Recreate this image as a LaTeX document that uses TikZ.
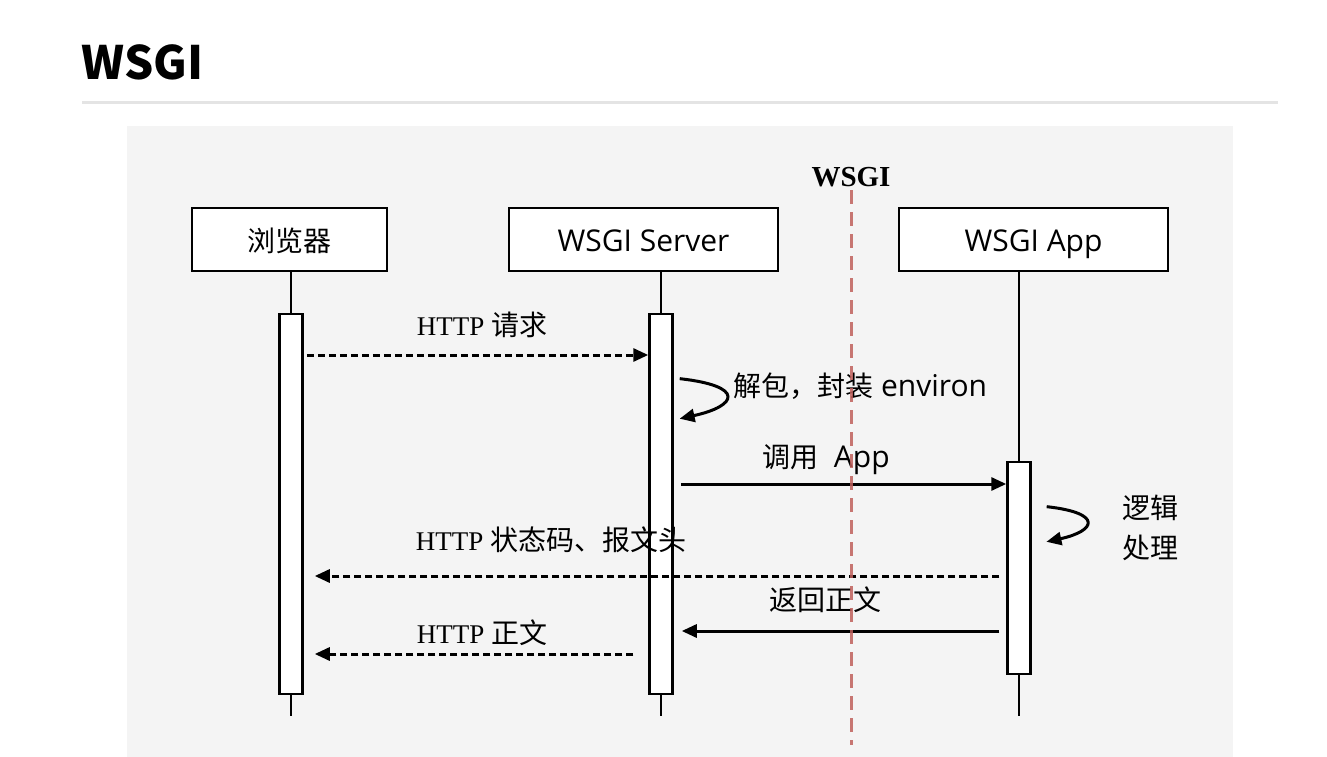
\documentclass[tikz,border=0pt]{standalone}
\usepackage{fontspec}
\setmainfont{Liberation Serif}
\setsansfont{Open Sans}
\newfontfamily\cjk{Noto Sans CJK SC}
\usetikzlibrary{arrows.meta}
\definecolor{panel}{HTML}{F4F4F4}
\definecolor{rulegray}{HTML}{E4E4E4}
\definecolor{split}{HTML}{C0605C}
\newcommand{\zh}[1]{{\cjk\fontsize{28}{34}\selectfont #1}}

\begin{document}
\begin{tikzpicture}[x=1pt,y=-1pt]
\useasboundingbox (0,0) rectangle (1327,757);
\tikzstyle{actor} = [draw, line width=2.5pt, fill=white, minimum height=63pt, inner sep=0pt, text height=23pt, text depth=0pt, font=\sffamily\fontsize{30}{36}\selectfont];
\tikzstyle{bar} = [draw, line width=2.5pt, fill=white, minimum width=23pt, inner sep=0pt];
\tikzstyle{life} = [line width=1.8pt];
\tikzstyle{call} = [line width=3pt, -{Triangle[length=15pt,width=13pt]}];
\tikzstyle{ret} = [call, dash pattern=on 7pt off 4pt];
\tikzstyle{lbl} = [inner sep=0pt, font=\fontsize{27}{32}\selectfont];
\tikzstyle{slbl} = [inner sep=0pt, font=\sffamily\fontsize{30}{40}\selectfont];
\fill[panel] (127,126) rectangle (1233,757);
\fill[rulegray] (82,101) rectangle (1278,104);
\node[anchor=west, inner sep=0pt, font=\cjk\bfseries\fontsize{46}{46}\selectfont] (title) at (81,62) {WSGI};

\node[actor, minimum width=195pt] (br) at (289.5,239.5) {\zh{浏览器}};
\node[actor, minimum width=269pt] (srv) at (643.5,239.5) {WSGI Server};
\node[actor, minimum width=269pt] (app) at (1033.5,239.5) {WSGI App};

\node[bar, minimum height=380pt] (brbar) at (291,504) {};
\node[bar, minimum height=380pt] (srvbar) at (661,504) {};
\node[bar, minimum height=212pt] (appbar) at (1019,568) {};
\coordinate (brend) at (291,716);
\coordinate (srvend) at (661,716);
\coordinate (append) at (1019,716);
\draw[life] (brbar.north |- br.south) -- (brbar.north);
\draw[life] (brbar.south) -- (brend);
\draw[life] (srvbar.north |- srv.south) -- (srvbar.north);
\draw[life] (srvbar.south) -- (srvend);
\draw[life] (appbar.north |- app.south) -- (appbar.north);
\draw[life] (appbar.south) -- (append);

% message rows
\coordinate (r1) at (0,355);
\coordinate (s1a) at (0,378);
\coordinate (s1b) at (0,420);
\coordinate (r2) at (0,484);
\coordinate (s2a) at (0,505);
\coordinate (s2b) at (0,545);
\coordinate (r3) at (0,576);
\coordinate (r4) at (0,631);
\coordinate (r5) at (0,654);

\draw[ret, shorten <=3pt] (brbar.east |- r1) -- (srvbar.west |- r1);
\draw[call, shorten <=6pt, shorten >=6pt] (srvbar.east |- s1a) .. controls +(72,8) and +(64,-14) .. (srvbar.east |- s1b);
\draw[call, shorten <=7pt] (srvbar.east |- r2) -- (appbar.west |- r2);
\draw[call, shorten <=15pt, shorten >=15pt] (appbar.east |- s2a) .. controls +(72,8) and +(64,-14) .. (appbar.east |- s2b);
\draw[ret, shorten <=7pt, shorten >=11pt] (appbar.west |- r3) -- (brbar.east |- r3);
\draw[call, shorten <=7pt, shorten >=8pt] (appbar.west |- r4) -- (srvbar.east |- r4);
\draw[ret, shorten <=15pt, shorten >=11pt] (srvbar.west |- r5) -- (brbar.east |- r5);

\node[lbl] (l1) at (482,325) {HTTP \zh{请求}};
\node[slbl, anchor=west] (l2) at (733,386) {\zh{解包，封装} environ};
\node[slbl] (l3) at (826,460) {\zh{调用}\ \ App};
\node[inner sep=0pt, align=center, font=\cjk\fontsize{28}{40}\selectfont] (l4) at (1150,528) {逻辑\\处理};
\node[lbl] (l5) at (551,540) {HTTP \zh{状态码、报文头}};
\node[slbl] (l6) at (825,600) {\zh{返回正文}};
\node[lbl] (l7) at (482,633) {HTTP \zh{正文}};

\node[inner sep=0pt, font=\bfseries\fontsize{29}{29}\selectfont] (wsgi) at (851,177) {WSGI};
\coordinate (splitend) at (851,745);
\draw[split, line width=3pt, dash pattern=on 14pt off 8pt, opacity=0.85] ([yshift=-3pt]wsgi.south) -- (splitend);
\end{tikzpicture}
\end{document}
